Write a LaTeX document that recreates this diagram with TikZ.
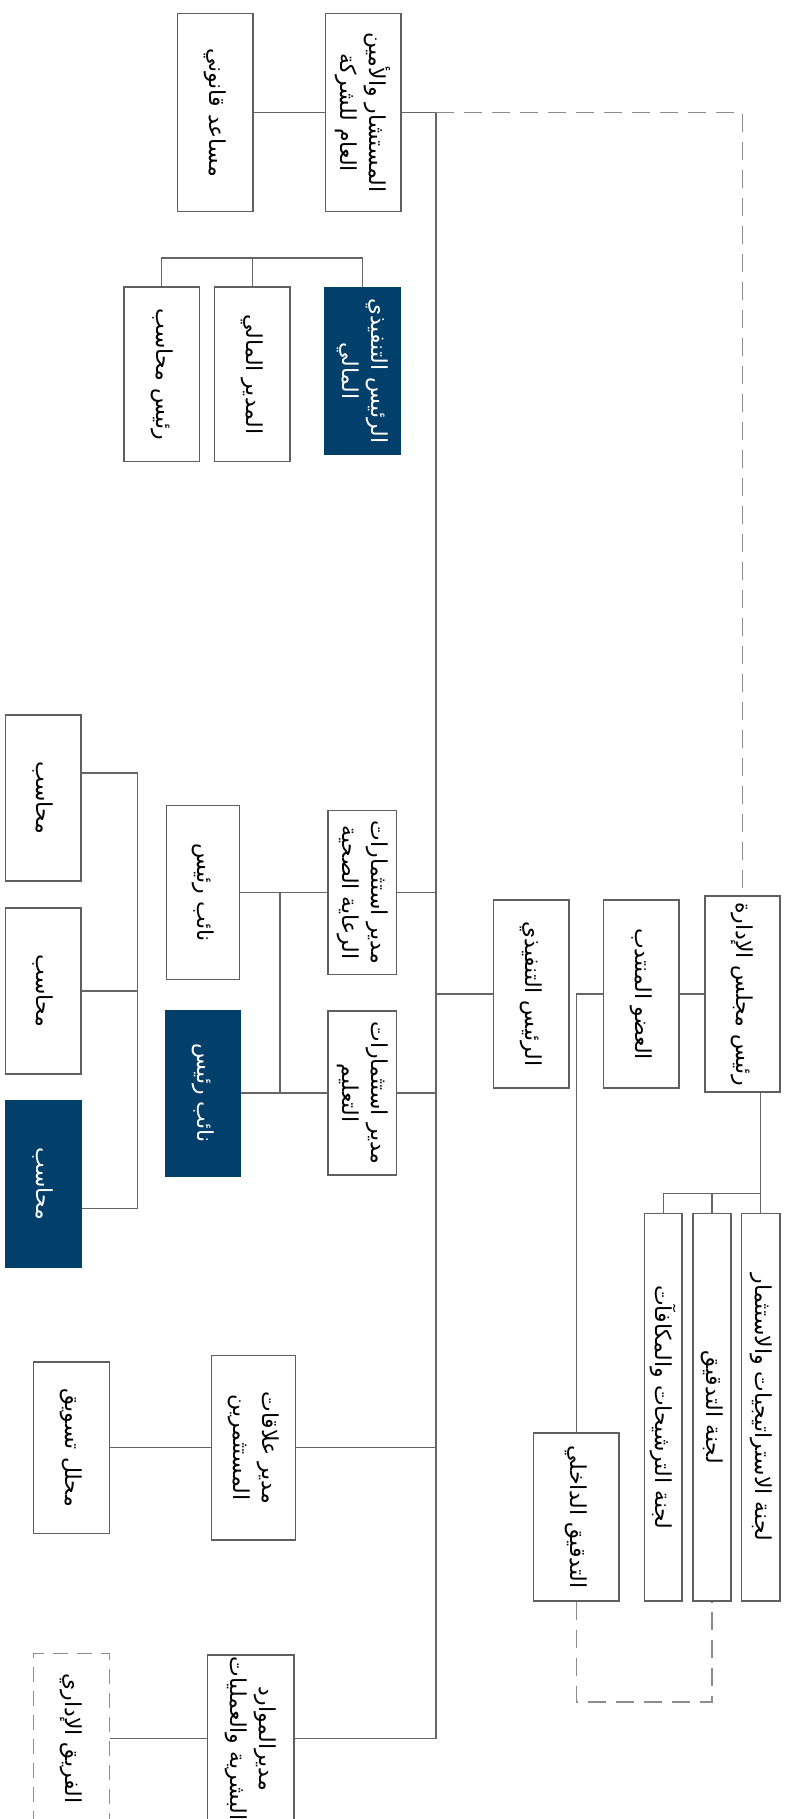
\documentclass[tikz,border=0pt]{standalone}
\usepackage{fontspec}
\newfontfamily\arabicfont[Script=Arabic]{DejaVu Sans}
\TeXXeTstate=1
\definecolor{navy}{HTML}{023F6B}
\definecolor{bordergray}{HTML}{5F5F5F}
\definecolor{linegray}{HTML}{666666}
\definecolor{dashgray}{HTML}{8C8C8C}
\newcommand\ar[1]{\beginR #1\endR}
\newcommand\orgbox[8]{%
  \node[#2, minimum width=#6pt, minimum height=#7pt] (#1) at (#4,#5) {};
  \node[#3] at (#1.center) {#8};}
\tikzset{
  box/.style={draw=bordergray, line width=1.3pt, fill=white, inner sep=0pt},
  darkbox/.style={draw=navy, fill=navy, line width=1.3pt, inner sep=0pt},
  dashbox/.style={draw=dashgray, line width=1.2pt, dash pattern=on 15pt off 9pt, fill=white, inner sep=0pt},
  lbl/.style={rotate=-90, align=center, inner sep=0pt, font=\arabicfont\fontsize{22}{29}\selectfont, text=black},
  wlbl/.style={lbl, text=white},
  conn/.style={draw=linegray, line width=1.4pt},
  spine/.style={draw=linegray, line width=2.8pt},
  dconn/.style={draw=dashgray, line width=1.2pt, dash pattern=on 18pt off 10pt},
}
\begin{document}
\begin{tikzpicture}[x=1pt,y=-1pt]
\useasboundingbox (0,0) rectangle (785,1819);

% boxes
\orgbox{chair}{box}{lbl}{742.5}{994}{75}{196}{\ar{رئيس مجلس الإدارة}}
\orgbox{md}{box}{lbl}{641.25}{994}{75.5}{188}{\ar{العضو المنتدب}}
\orgbox{ceo}{box}{lbl}{531.25}{994}{75.5}{188}{\ar{الرئيس التنفيذي}}
\orgbox{sec}{box}{lbl}{363.25}{112.5}{75.5}{198.4}{\ar{المستشار والأمين}\\\ar{العام للشركة}}
\orgbox{legal}{box}{lbl}{215.25}{112.5}{75.5}{198.4}{\ar{مساعد قانوني}}
\orgbox{cfo}{darkbox}{wlbl}{362.5}{370.7}{75}{166.7}{\ar{الرئيس التنفيذي}\\\ar{المالي}}
\orgbox{fm}{box}{lbl}{252.25}{374.35}{75.5}{174.7}{\ar{المدير المالي}}
\orgbox{ca}{box}{lbl}{161.75}{374.35}{75.5}{174.7}{\ar{رئيس محاسب}}
\orgbox{loc}{box}{lbl}{362.25}{892.5}{68.5}{164}{\ar{مدير استثمارات}\\\ar{الرعاية الصحية}}
\orgbox{glob}{box}{lbl}{362.25}{1093}{68.5}{164}{\ar{مدير استثمارات}\\\ar{التعليم}}
\orgbox{vpa}{box}{lbl}{203}{892.5}{73}{173.5}{\ar{نائب رئيس}}
\orgbox{vpb}{darkbox}{wlbl}{203}{1093}{74}{165.7}{\ar{نائب رئيس}}
\orgbox{acca}{box}{lbl}{43.25}{798}{75.5}{166}{\ar{محاسب}}
\orgbox{accb}{box}{lbl}{43.25}{991}{75.5}{166}{\ar{محاسب}}
\orgbox{accc}{darkbox}{wlbl}{43.25}{1183.85}{75.5}{167}{\ar{محاسب}}
\orgbox{ir}{box}{lbl}{253.5}{1447.7}{84}{184.5}{\ar{مدير علاقات}\\\ar{المستثمرين}}
\orgbox{mkt}{box}{lbl}{71.5}{1447.7}{76}{171.3}{\ar{محلل تسويق}}
\orgbox{hr}{box}{lbl}{250.75}{1738.5}{86.5}{167}{\ar{مديرالموارد}\\\ar{البشرية والعمليات}}
\orgbox{admin}{dashbox}{lbl}{71.5}{1738.5}{76}{170.4}{\ar{الفريق الإداري}}
\orgbox{ia}{box}{lbl}{576.25}{1517}{85.5}{168}{\ar{التدقيق الداخلي}}
\orgbox{comnom}{box}{lbl}{663.25}{1407.35}{37.5}{387.3}{\ar{لجنة الترشيحات والمكافآت}}
\orgbox{comaud}{box}{lbl}{712}{1407.35}{38}{387.3}{\ar{لجنة التدقيق}}
\orgbox{comstr}{box}{lbl}{760.75}{1407.35}{38.5}{387.3}{\ar{لجنة الاستراتيجيات والاستثمار}}

% coordinates
\coordinate (spT) at (436,112.5);
\coordinate (spB) at (436,1738.5);
\coordinate (cbus) at (700,1193.5);
\coordinate (fbus) at (250,258);
\coordinate (vjA) at (280,892.5);
\coordinate (vjB) at (280,1093);
\coordinate (abT) at (137.5,773);
\coordinate (abB) at (137.5,1208.7);
\coordinate (dB) at (600,1702);

% connectors
\draw[spine] (spT) -- (spB);
\draw[conn] (sec.east) -- (spT);
\draw[conn] (legal.east) -- (sec.west);
\draw[dconn] (spT) -- (spT -| chair) -- (chair.north);
\draw[conn] (chair.west) -- (md.east);
\draw[conn] (md.west) -- (md.west -| ia) -- (ia.north);
\draw[conn] (ceo.west) -- (ceo.west -| spT);
\draw[conn] (chair.south -| comstr) -- (comstr.north);
\draw[conn] (comnom.north) -- (comnom.north |- cbus) -- (comstr.north |- cbus);
\draw[conn] (comaud.north) -- (comaud.north |- cbus);
\draw[conn] (loc.east) -- (loc.east -| spT);
\draw[conn] (glob.east) -- (glob.east -| spT);
\draw[conn] (loc.west) -- (vpa.east);
\draw[conn] (glob.west) -- (vpb.east);
\draw[conn] (vjA) -- (vjB);
\draw[conn] (acca.east |- abT) -- (abT) -- (abB) -- (accc.east |- abB);
\draw[conn] (accb.east) -- (accb.east -| abT);
\draw[conn] (ca.north) -- (ca.north |- fbus) -- (cfo.north |- fbus) -- (cfo.north);
\draw[conn] (fm.north) -- (fm.north |- fbus);
\draw[conn] (ir.east) -- (ir.east -| spT);
\draw[conn] (ir.west) -- (mkt.east);
\draw[conn] (hr.east) -- (spB);
\draw[conn] (hr.west) -- (admin.east);
\draw[dconn] (ia.south) -- (ia.south |- dB) -- (comaud.south |- dB) -- (comaud.south);
\end{tikzpicture}
\end{document}
